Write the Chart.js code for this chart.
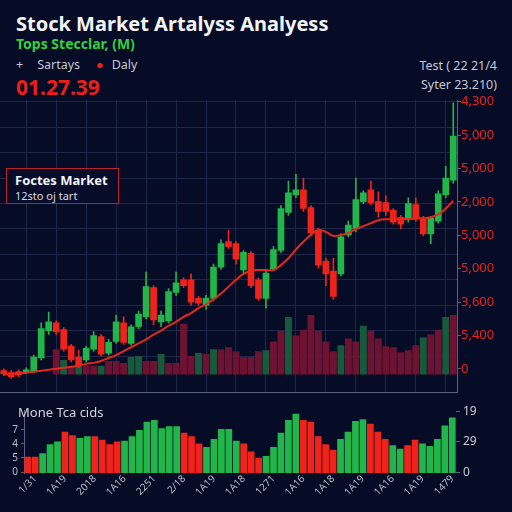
<!DOCTYPE html>
<html>
<head>
<meta charset="utf-8">
<script src="https://cdn.jsdelivr.net/npm/chart.js@4.4.1/dist/chart.umd.min.js"></script>
<style>
  body { margin: 0; width: 512px; height: 512px; background: #060b26; overflow: hidden; position: relative; font-family: "Noto Sans", sans-serif; }
  .txt { position: absolute; line-height: 1; white-space: nowrap; }
  #title { left: 16px; top: 14px; font-size: 20px; font-weight: 700; color: #f2f4f8; }
  #subtitle { left: 16px; top: 37px; font-size: 14px; font-weight: 700; color: #2fd23f; }
  #legend { left: 16px; top: 59px; font-size: 12.5px; color: #c3c7d3; }
  #legend .dot { color: #e8231e; margin: 0 8px 0 16px; }
  #legend .plus { margin-right: 14px; }
  #price { left: 16px; top: 77px; font-size: 21px; font-weight: 700; color: #ec2019; }
  .side { right: 15px; font-size: 12.5px; color: #c3c7d3; text-align: right; }
  #note { position: absolute; left: 6px; top: 168px; width: 111px; height: 34px; border: 1.5px solid #b8232e; background: #070c28; color: #f2f4f8; }
  #note b { position: absolute; left: 8px; top: 5px; font-size: 13px; line-height: 1; }
  #note span { position: absolute; left: 8px; top: 21px; font-size: 11px; line-height: 1; color: #d8dbe4; }
  #mainWrap { position: absolute; left: 0; top: 88px; width: 512px; height: 312px; }
  #lowWrap { position: absolute; left: 0; top: 400px; width: 512px; height: 112px; }
  #lowTitle { left: 18px; top: 406px; font-size: 13px; color: #d3d6df; }
</style>
</head>
<body>
<div class="txt" id="title">Stock Market Artalyss Analyess</div>
<div class="txt" id="subtitle">Tops Stecclar, (M)</div>
<div class="txt" id="legend"><span class="plus">+</span>Sartays<span class="dot">●</span>Daly</div>
<div class="txt" id="price">01.27.39</div>
<div class="txt side" style="top:60px">Test ( 22 21/4</div>
<div class="txt side" style="top:79px">Syter 23.210)</div>
<div id="mainWrap"><canvas id="mainChart"></canvas></div>
<div id="note"><b>Foctes Market</b><span>12sto oj tart</span></div>
<div id="lowWrap"><canvas id="lowChart"></canvas></div>
<div class="txt" id="lowTitle">Mone Tca cids</div>
<script>
const opens  = [13, 11, 12, 11, 12, 26, 54, 62, 55, 38, 27, 24, 35, 48, 31, 43, 62, 41, 58, 68, 98, 63, 64, 93, 106, 106, 87, 80, 87, 119, 145, 143, 116, 133, 106, 87, 117, 136, 175, 193, 198, 180, 157, 125, 115, 112, 152, 158, 186, 198, 186, 185, 177, 170, 168, 183, 169, 153, 166, 193, 208];
const highs  = [15, 13, 14, 16, 29, 62, 73, 64, 57, 40, 34, 38, 53, 50, 45, 70, 68, 60, 74, 114, 100, 74, 97, 114, 108, 112, 89, 90, 122, 147, 157, 145, 136, 135, 108, 116, 140, 182, 207, 214, 210, 182, 159, 128, 128, 153, 166, 210, 197, 207, 196, 192, 179, 172, 190, 190, 171, 171, 197, 222, 287];
const lows   = [8, 5, 7, 10, 11, 24, 50, 50, 33, 22, 16, 22, 33, 28, 29, 41, 40, 39, 56, 66, 60, 58, 62, 90, 98, 80, 80, 76, 85, 117, 138, 122, 113, 98, 85, 77, 115, 134, 172, 190, 176, 152, 118, 100, 86, 110, 150, 155, 184, 183, 170, 172, 163, 158, 165, 166, 151, 143, 164, 190, 205];
const closes = [10, 7, 9, 14, 27, 56, 63, 53, 35, 24, 19, 36, 49, 30, 42, 63, 42, 58, 71, 99, 65, 70, 94, 103, 100, 83, 82, 87, 119, 143, 140, 127, 134, 100, 87, 113, 137, 179, 195, 198, 179, 154, 121, 112, 89, 150, 162, 188, 195, 185, 176, 176, 165, 163, 184, 168, 153, 169, 194, 210, 253];
const movingAvg = [9, 10, 10, 11, 12, 13, 14, 15, 16, 17, 18, 20, 21, 23, 26, 29, 33, 37, 41, 45, 50, 54, 59, 63, 68, 72, 77, 81, 86, 92, 99, 106, 112, 115, 116, 116, 116, 121, 128, 137, 145, 152, 157, 155, 151, 152, 154, 158, 161, 164, 167, 168, 168, 168, 168, 169, 169, 170, 173, 179, 187];
const volumes = [0, 0, 0, 0, 0, 0, 0, 26, 15, 9, 9, 9, 9, 9, 14, 14, 12, 18, 19, 14, 14, 21, 12, 12, 52, 19, 22, 21, 26, 26, 28, 24, 18, 18, 24, 25, 34, 45, 59, 40, 46, 61, 45, 34, 24, 30, 37, 34, 50, 45, 37, 29, 28, 23, 25, 30, 38, 41, 46, 59, 61];
const volumeSide = ['r','r','r','r','r','r','r','r','g','r','g','r','r','g','r','r','r','g','g','r','r','g','r','r','r','r','g','r','g','r','r','r','r','r','r','g','r','r','g','r','r','r','r','r','r','g','r','r','g','r','r','r','r','r','r','r','g','r','r','g','r'];
const priceTicks = ['0', '5,400', '3,600', '5,000', '5,000', '2,000', '5,000', '5,000', '4,300'];

const flowValues = [18, 18, 22, 32, 35, 46, 42, 39, 41, 41, 37, 32, 35, 36, 41, 48, 57, 59, 50, 52, 52, 45, 41, 33, 29, 38, 49, 49, 36, 33, 24, 17, 19, 29, 45, 59, 66, 59, 57, 41, 32, 26, 38, 46, 58, 60, 55, 46, 38, 31, 27, 31, 37, 33, 30, 38, 53, 62];
const flowSide = ['r','r','g','g','g','r','r','g','g','r','r','r','r','g','g','g','g','g','g','g','g','r','r','r','g','g','g','g','g','r','r','r','g','g','g','g','g','r','r','r','r','r','g','g','g','g','r','r','r','g','g','r','r','g','g','g','g','g'];
const flowTicksLeft = ['0', '5', '4', '7'];
const flowTicksRight = ['0', '29', '19'];
const dateTicks = ['1/31', '1A19', '2018', '1A16', '2251', '2/18', '1A19', '1A18', '1271', '1A16', '1A18', '1A19', '1A16', '1A19', '1479'];

const GREEN = '#22b54a';
const RED = '#f0231b';
const GRID = '#1d2749';
const AXIS = '#59617f';

document.addEventListener('DOMContentLoaded', () => {
  const days = opens.map((_, i) => 'D' + (i + 1));
  const candleColors = opens.map((o, i) => closes[i] >= o ? GREEN : RED);

  new Chart(document.getElementById('mainChart'), {
    type: 'bar',
    data: {
      labels: days,
      datasets: [
        {
          type: 'line',
          data: movingAvg,
          borderColor: '#e3281c',
          borderWidth: 2,
          pointRadius: 0,
          tension: 0.4,
          yAxisID: 'y',
          order: 0
        },
        {
          data: opens.map((o, i) => [o, closes[i]]),
          backgroundColor: candleColors,
          barThickness: 6,
          grouped: false,
          yAxisID: 'y',
          order: 1
        },
        {
          data: lows.map((l, i) => [l, highs[i]]),
          backgroundColor: candleColors,
          barThickness: 1,
          grouped: false,
          yAxisID: 'y',
          order: 2
        },
        {
          data: volumes,
          backgroundColor: volumeSide.map(s => s === 'g' ? '#175a3b' : '#6e1231'),
          barPercentage: 0.92,
          categoryPercentage: 1,
          grouped: false,
          yAxisID: 'yv',
          order: 3
        }
      ]
    },
    options: {
      responsive: true,
      maintainAspectRatio: false,
      animation: false,
      layout: { padding: { top: 12, bottom: 1, left: 0, right: 0 } },
      plugins: { legend: { display: false }, tooltip: { enabled: false } },
      scales: {
        x: {
          ticks: { display: false },
          grid: {
            offset: false,
            drawTicks: false,
            color: ctx => ctx.index % 4 === 3 ? GRID : 'transparent'
          },
          border: { display: true, color: AXIS }
        },
        y: {
          position: 'left',
          min: -9,
          max: 290,
          ticks: { display: false },
          grid: { color: GRID, drawTicks: false },
          border: { display: false },
          afterBuildTicks: axis => {
            axis.ticks = Array.from({ length: 11 }, (_, k) => ({ value: 28 + 26 * k }));
          }
        },
        yv: { display: false, min: -18, max: 281 },
        yr: {
          position: 'right',
          min: -0.7,
          max: 8.05,
          afterBuildTicks: axis => {
            axis.ticks = priceTicks.map((_, i) => ({ value: i }));
          },
          afterFit: axis => { axis.width = 55; },
          ticks: {
            color: '#e8231e',
            font: { family: 'Noto Sans', size: 13 },
            padding: 0,
            callback: v => priceTicks[v]
          },
          grid: { drawOnChartArea: false, tickLength: 4, tickColor: AXIS },
          border: { display: true, color: AXIS }
        }
      }
    }
  });

  new Chart(document.getElementById('lowChart'), {
    type: 'bar',
    data: {
      labels: flowValues.map((_, i) => 'F' + (i + 1)),
      datasets: [{
        data: flowValues,
        backgroundColor: flowSide.map(s => s === 'g' ? GREEN : RED),
        barPercentage: 0.9,
        categoryPercentage: 1,
        yAxisID: 'y'
      }]
    },
    options: {
      responsive: true,
      maintainAspectRatio: false,
      animation: false,
      layout: { padding: { top: 3, bottom: 0, left: 0, right: 0 } },
      plugins: { legend: { display: false }, tooltip: { enabled: false } },
      scales: {
        x: {
          grid: { display: false, drawTicks: false, tickLength: 0 },
          border: { display: false },
          afterFit: axis => { axis.height = 39; },
          ticks: {
            autoSkip: false,
            maxRotation: 45,
            minRotation: 45,
            padding: 0,
            color: '#b9bdca',
            font: { family: 'Noto Sans', size: 10 },
            callback: (v, i) => i % 4 === 1 ? dateTicks[(i - 1) / 4] : null
          }
        },
        y: { display: false, min: 0, max: 70 },
        yl: {
          position: 'left',
          min: -0.06,
          max: 4.375,
          afterBuildTicks: axis => {
            axis.ticks = flowTicksLeft.map((_, i) => ({ value: i }));
          },
          afterFit: axis => { axis.width = 24; },
          ticks: {
            color: '#b9bdca',
            font: { family: 'Noto Sans', size: 10 },
            padding: 3,
            callback: v => flowTicksLeft[v]
          },
          grid: { drawOnChartArea: false, tickLength: 3, tickColor: AXIS },
          border: { display: true, color: AXIS }
        },
        yr: {
          position: 'right',
          min: -0.03,
          max: 2.03,
          afterBuildTicks: axis => {
            axis.ticks = flowTicksRight.map((_, i) => ({ value: i }));
          },
          afterFit: axis => { axis.width = 56; },
          ticks: {
            color: '#c9ccd6',
            font: { family: 'Noto Sans', size: 12 },
            padding: 3,
            callback: v => flowTicksRight[v]
          },
          grid: { drawOnChartArea: false, tickLength: 4, tickColor: AXIS },
          border: { display: false }
        }
      }
    }
  });
});
</script>
</body>
</html>
